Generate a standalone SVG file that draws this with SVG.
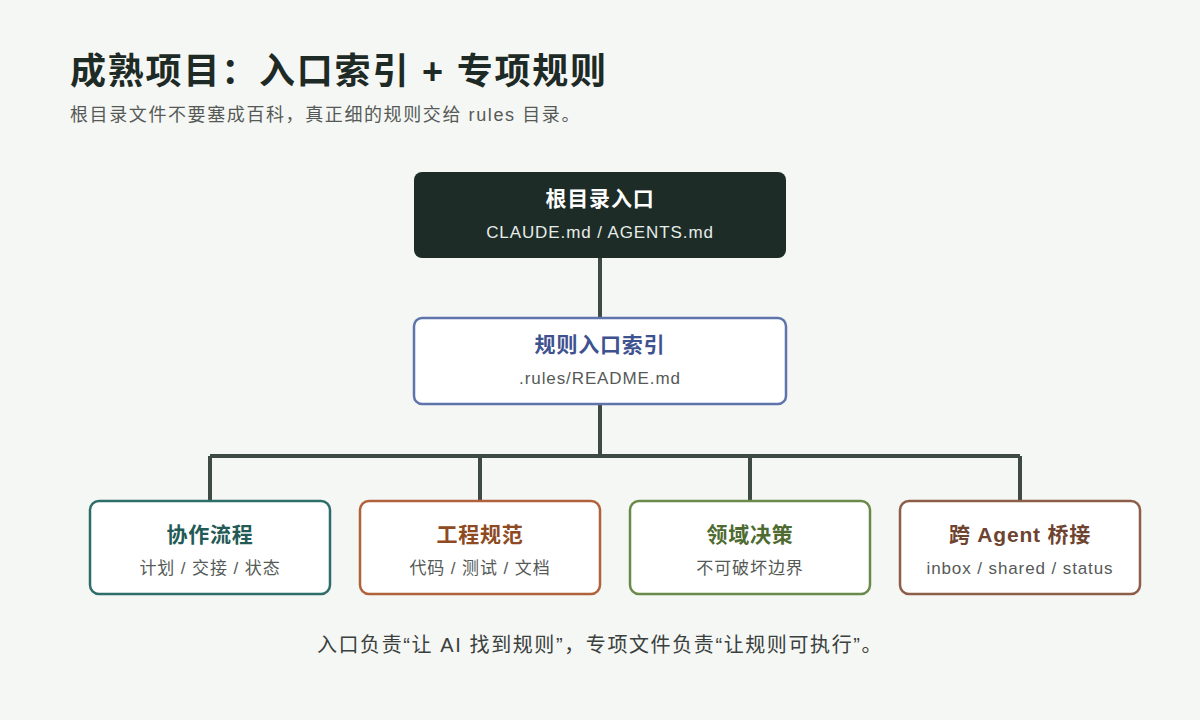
<svg xmlns="http://www.w3.org/2000/svg" width="1200" height="720" viewBox="0 0 1200 720">
<style>
text{font-family:"Liberation Sans","Noto Sans CJK SC",sans-serif}
.t{font-size:21px;font-weight:700;text-anchor:middle;letter-spacing:0.8px}
.s{font-size:17px;fill:#555a57;text-anchor:middle;letter-spacing:0.9px}
.box{fill:#fff;stroke-width:2.5}
.ln{stroke:#3f4a45;stroke-width:4;fill:none}
</style>
<rect width="1200" height="720" fill="#f5f7f4"/>
<text x="70" y="84" font-size="36" font-weight="700" fill="#1e2a26" letter-spacing="1.8">成熟项目：入口索引 + 专项规则</text>
<text x="70" y="121" font-size="18" fill="#555a57" letter-spacing="1.6">根目录文件不要塞成百科，真正细的规则交给 rules 目录。</text>
<g id="connectors">
<path class="ln" d="M600 258V318M600 404V456M210 456H1020M210 456V500M480 456V500M750 456V500M1020 456V500"/>
</g>
<g id="root"><rect x="414" y="172" width="372" height="86" rx="8" fill="#1e2c27"/>
<text class="t" x="600" y="206" fill="#fff">根目录入口</text><text class="s" x="600" y="238" style="fill:#e6ece9">CLAUDE.md / AGENTS.md</text></g>
<g id="index"><rect class="box" x="414" y="318" width="372" height="86" rx="8" stroke="#5f74ad"/>
<text class="t" x="600" y="352" fill="#3e5290">规则入口索引</text><text class="s" x="600" y="384">.rules/README.md</text></g>
<g id="n1"><rect class="box" x="90" y="501" width="240" height="93" rx="9" stroke="#2e6e6a"/>
<text class="t" x="210" y="542" fill="#235a56">协作流程</text><text class="s" x="210" y="574">计划 / 交接 / 状态</text></g>
<g id="n2"><rect class="box" x="360" y="501" width="240" height="93" rx="9" stroke="#b0623a"/>
<text class="t" x="480" y="542" fill="#8e4a22">工程规范</text><text class="s" x="480" y="574">代码 / 测试 / 文档</text></g>
<g id="n3"><rect class="box" x="630" y="501" width="240" height="93" rx="9" stroke="#6a8a4a"/>
<text class="t" x="750" y="542" fill="#4e6b31">领域决策</text><text class="s" x="750" y="574">不可破坏边界</text></g>
<g id="n4"><rect class="box" x="900" y="501" width="240" height="93" rx="9" stroke="#8c5e48"/>
<text class="t" x="1020" y="542" fill="#6e4431">跨 Agent 桥接</text><text class="s" x="1020" y="574">inbox / shared / status</text></g>
<text x="600" y="652" font-size="20" fill="#3a403d" text-anchor="middle" letter-spacing="1.6">入口负责“让 AI 找到规则”，专项文件负责“让规则可执行”。</text>
</svg>
